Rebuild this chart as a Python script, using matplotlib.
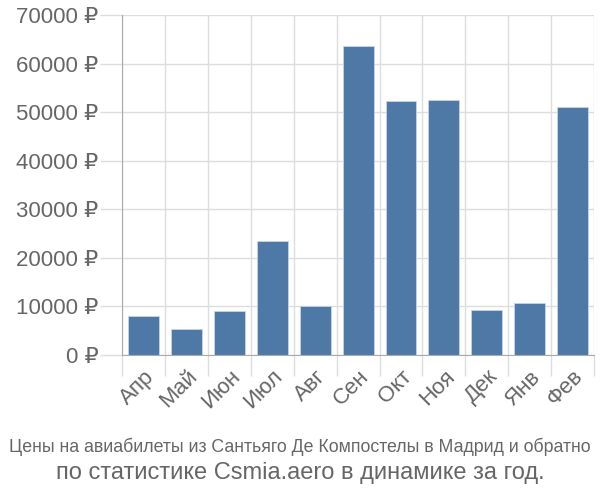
import matplotlib
matplotlib.use("Agg")
from matplotlib import pyplot as plt
import numpy as np

months = ["Апр", "Май", "Июн", "Июл", "Авг", "Сен", "Окт", "Ноя", "Дек", "Янв", "Фев"]
prices = [8000, 5300, 9100, 23400, 10100, 63600, 52300, 52500, 9200, 10700, 51000]
yticks = [0, 10000, 20000, 30000, 40000, 50000, 60000, 70000]

plt.rcParams['font.family'] = ['Liberation Sans', 'DejaVu Sans']
text_col = "#666666"
grid_col = "#dddddd"

fig = plt.figure(figsize=(6, 5), dpi=100)
ax = fig.add_axes([0.2033, 0.29, 0.787, 0.68])

x = np.arange(len(months))
ax.bar(x, prices, width=0.72, color="#4e79a7", edgecolor="#c8d6e6", linewidth=0.6, zorder=3)

ax.set_xlim(-0.5, len(months) - 0.5)
ax.set_ylim(0, 70000)

ax.set_yticks(yticks)
ax.set_yticklabels([f"{v} ₽" for v in yticks], fontsize=16, color=text_col)
ax.tick_params(axis="y", length=16, color=grid_col, width=1, pad=1)

ax.set_xticks(x)
ax.set_xticklabels(months, rotation=45, ha="right", va="top", rotation_mode="anchor",
                   fontsize=16, color=text_col)
ax.tick_params(axis="x", which="major", length=0, pad=8)
ax.set_xticks(np.arange(-0.5, len(months)), minor=True)
ax.tick_params(axis="x", which="minor", length=15, color=grid_col, width=1)

ax.grid(axis="y", color=grid_col, linewidth=1, zorder=0)
ax.grid(axis="x", which="minor", color=grid_col, linewidth=1, zorder=0)

for s in ["top", "right"]:
    ax.spines[s].set_visible(False)
ax.spines["left"].set_color("#aaaaaa")
ax.spines["bottom"].set_color("#aaaaaa")
ax.spines["left"].set_zorder(4)
ax.spines["bottom"].set_zorder(4)

fig.text(0.5, 0.106, "Цены на авиабилеты из Сантьяго Де Компостелы в Мадрид и обратно",
         ha="center", va="center", fontsize=12.8, color=text_col)
fig.text(0.5, 0.054, "по статистике Csmia.aero в динамике за год.",
         ha="center", va="center", fontsize=17, color=text_col)

fig.savefig("out.png", dpi=100)
